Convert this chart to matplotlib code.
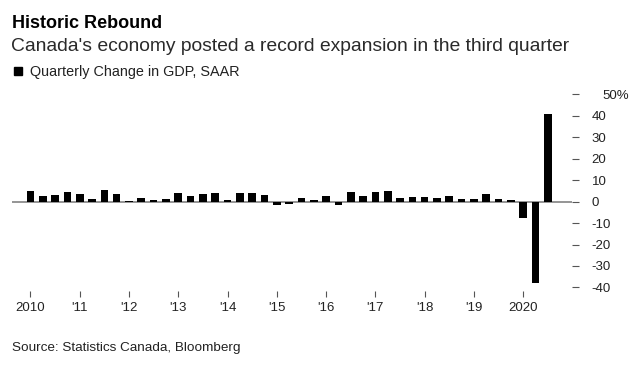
import numpy as np
import matplotlib
matplotlib.use('Agg')
import matplotlib.pyplot as plt
from matplotlib.transforms import ScaledTranslation

plt.rcParams['font.family'] = ['Liberation Sans', 'DejaVu Sans']

# quarterly change in GDP, SAAR (%), 2010 Q1 .. 2020 Q3
gdp_change = [5.0, 2.4, 2.9, 4.4,
              3.3, 1.0, 5.5, 3.3,
              0.3, 1.5, 0.7, 1.2,
              3.8, 2.4, 3.3, 4.1,
              0.8, 3.8, 4.1, 3.0,
              -1.8, -1.1, 1.4, 0.6,
              2.4, -1.5, 4.2, 2.4,
              4.5, 5.0, 1.4, 2.1,
              2.2, 1.5, 2.6, 1.1,
              1.1, 3.3, 1.2, 0.6,
              -7.6, -38.0, 40.5]
year_labels = ['2010', "'11", "'12", "'13", "'14", "'15", "'16", "'17", "'18", "'19", '2020']
y_ticks = [-40, -30, -20, -10, 0, 10, 20, 30, 40, 50]

fig = plt.figure(figsize=(6.35, 3.68), dpi=100)
ax = fig.add_axes([0.019, 0.210, 0.882, 0.5345])

x = np.arange(len(gdp_change))
ax.axhline(0, color='#8c8c8c', linewidth=1.3, zorder=1)
ax.bar(x, gdp_change, width=0.62, color='black', zorder=2)

ax.set_xlim(-1.49, 43.97)
ax.set_ylim(-41.5, 50)

for s in ax.spines.values():
    s.set_visible(False)

ax.set_xticks(np.arange(0, 44, 4))
ax.set_xticklabels(year_labels)
ax.tick_params(axis='x', length=4, width=0.8, color='#555555', labelsize=9.5,
               labelcolor='#222222', pad=4)

ax.yaxis.tick_right()
ax.set_yticks(y_ticks)
ax.set_yticklabels([str(v) for v in y_ticks[:-1]] + ['50%'])
ax.tick_params(axis='y', length=5, width=0.8, color='#555555', labelsize=9.5,
               labelcolor='#222222', pad=9)
top_label = ax.get_yticklabels()[-1]
top_label.set_transform(top_label.get_transform() + ScaledTranslation(11 / 100, 0, fig.dpi_scale_trans))

fig.text(0.019, 0.937, 'Historic Rebound', fontsize=13, fontweight='bold', color='black', va='center')
fig.text(0.018, 0.873, "Canada's economy posted a record expansion in the third quarter",
         fontsize=13.9, color='#2a2a2a', va='center')
fig.patches.append(plt.Rectangle((0.022, 0.796), 0.013, 0.022, transform=fig.transFigure,
                                 color='black', figure=fig))
fig.text(0.047, 0.804, 'Quarterly Change in GDP, SAAR', fontsize=10.4, color='#222222', va='center')
fig.text(0.019, 0.055, 'Source: Statistics Canada, Bloomberg', fontsize=9.7, color='#222222', va='center')

fig.savefig('out.png', dpi=100)
